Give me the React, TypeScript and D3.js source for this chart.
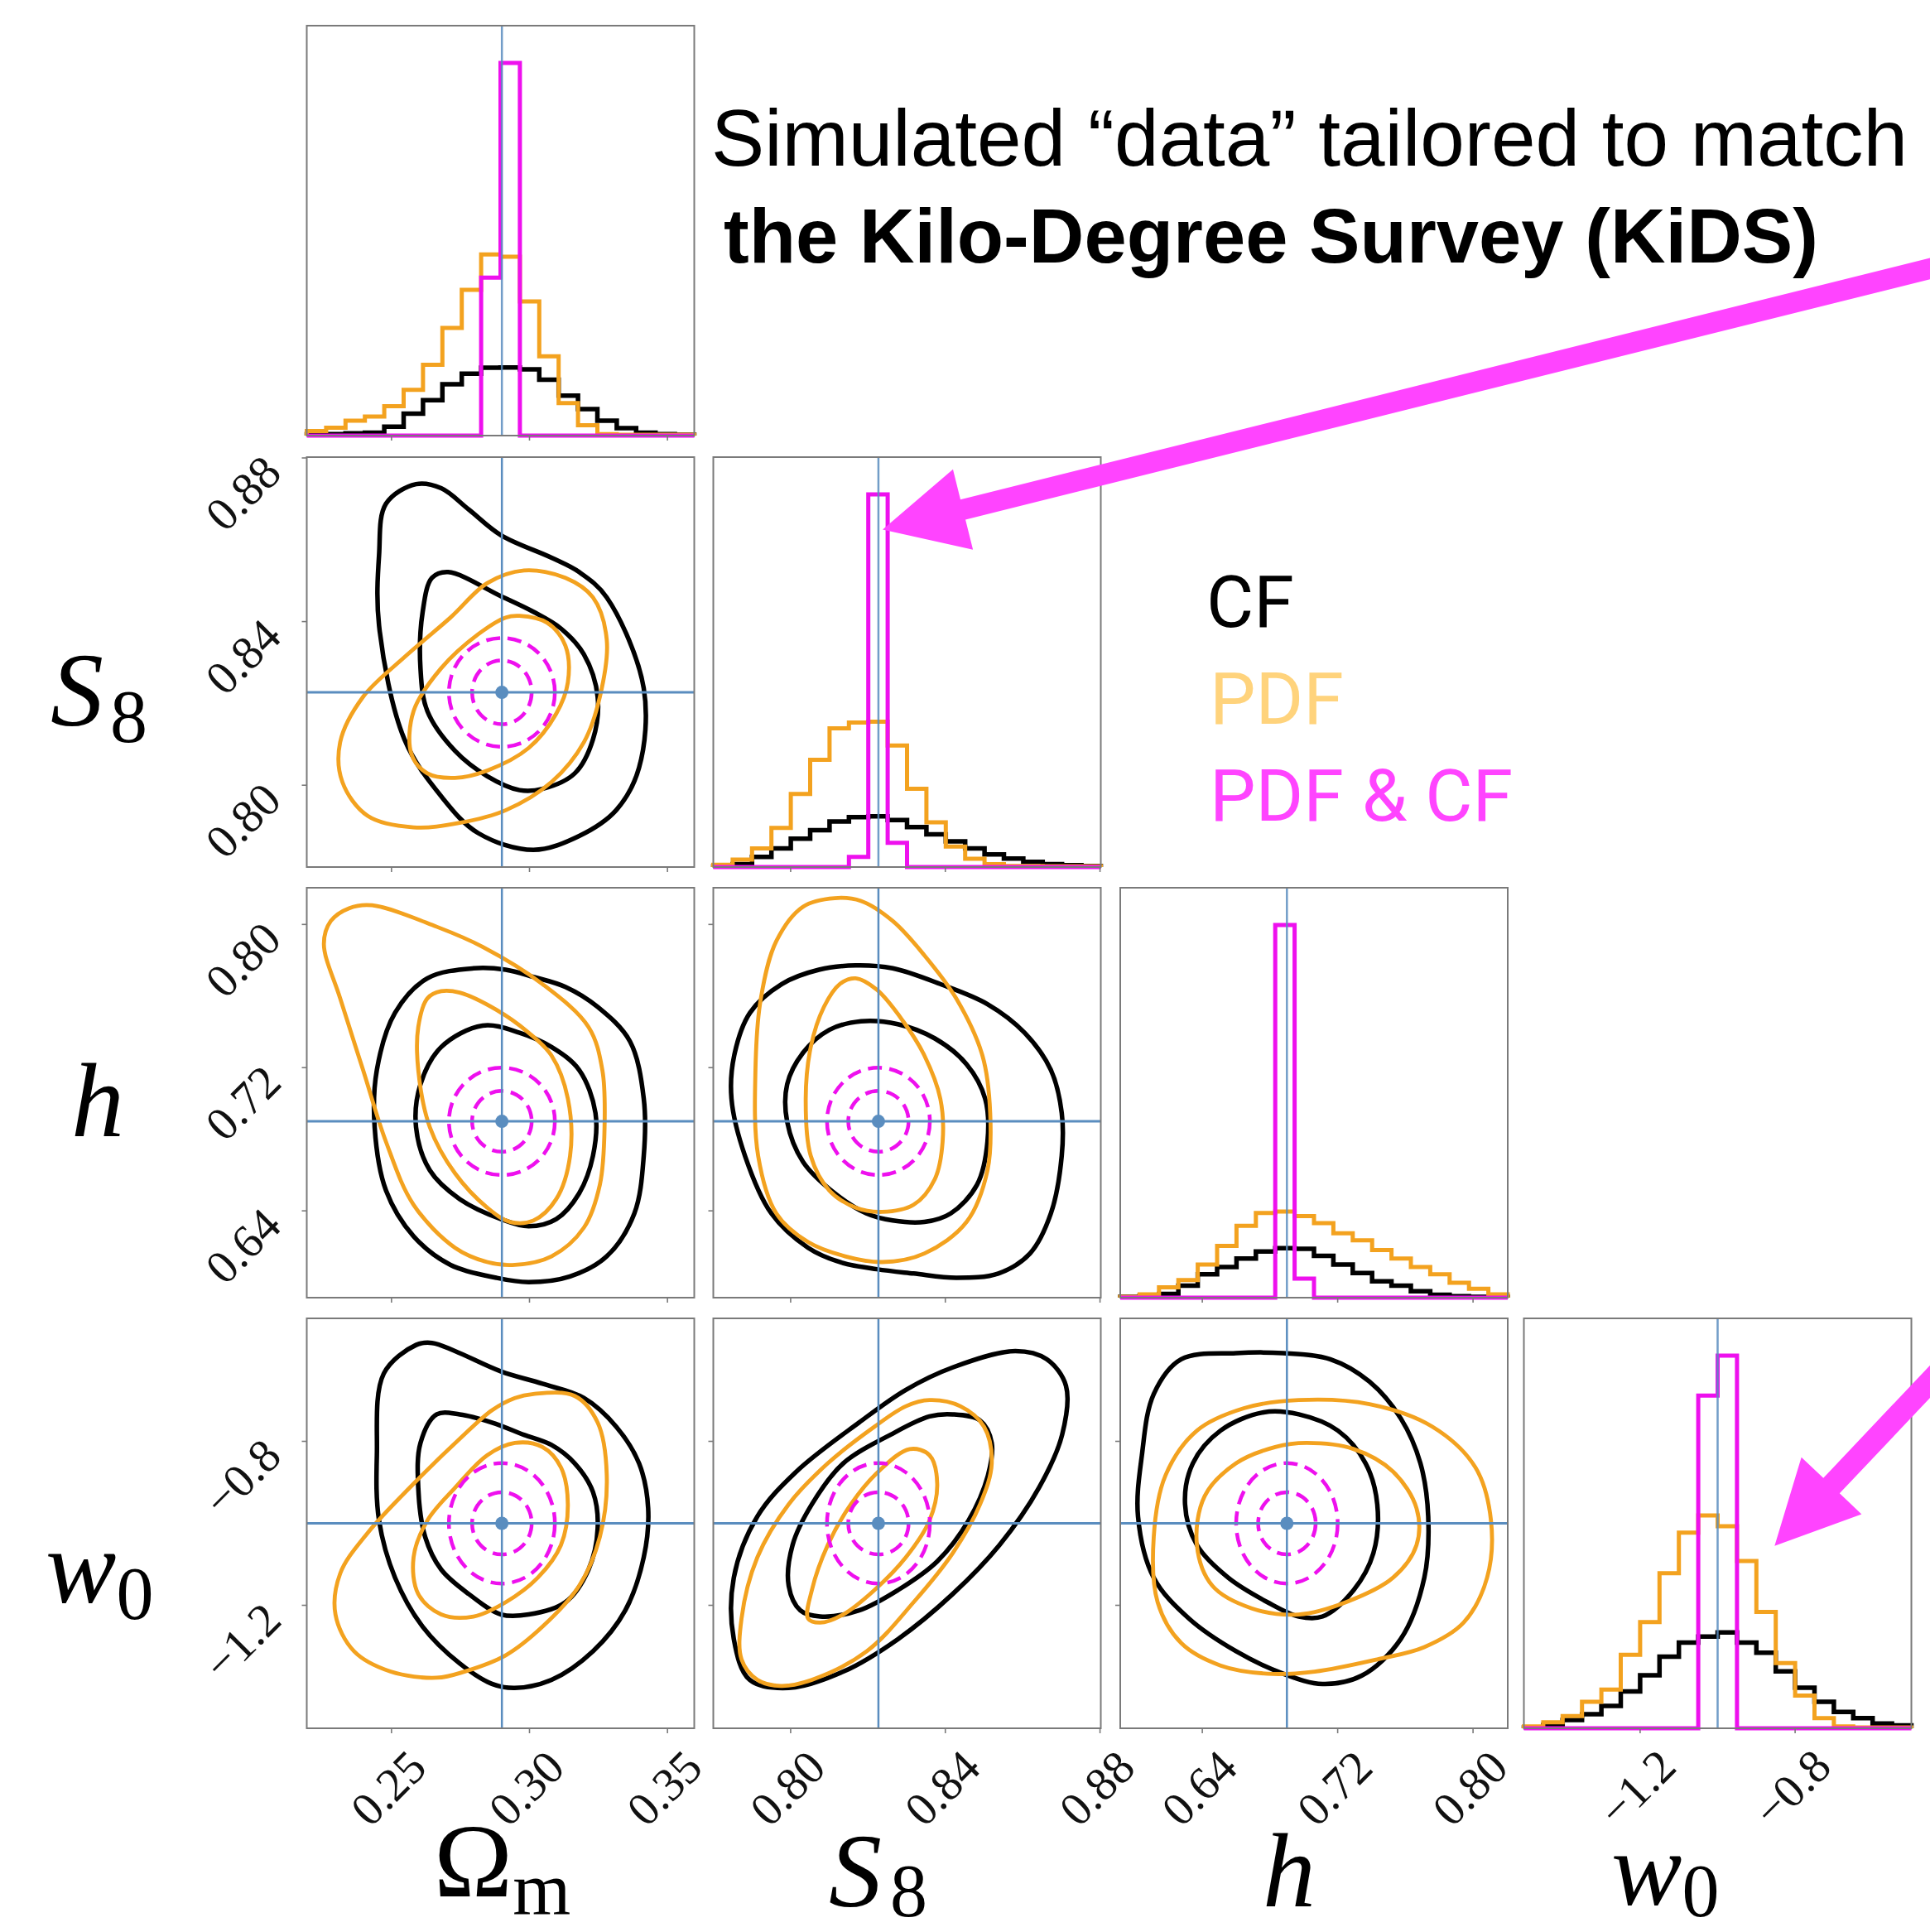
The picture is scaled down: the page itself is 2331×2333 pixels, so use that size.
import React from "react";
import * as d3 from "d3";

// ---------------- DATA ----------------
const PARAMS = ["Omega_m", "S_8", "h", "w_0"];
const RANGE_OM: [number, number] = [0.2193, 0.3597];
const RANGE_S8: [number, number] = [0.78, 0.8802];
const RANGE_H: [number, number] = [0.5915, 0.8205];
const RANGE_W0: [number, number] = [-1.5, -0.5];
const RANGES = [RANGE_OM, RANGE_S8, RANGE_H, RANGE_W0];
const TRUTHS = [0.29, 0.8227, 0.69, -1.0];

const TICKS_OM = [0.25, 0.3, 0.35];
const TICKS_S8 = [0.8, 0.84, 0.88];
const TICKS_H = [0.64, 0.72, 0.8];
const TICKS_W0 = [-1.2, -0.8];
const TICKS = [TICKS_OM, TICKS_S8, TICKS_H, TICKS_W0];
const TICK_LABELS_OM = ["0.25", "0.30", "0.35"];
const TICK_LABELS_S8 = ["0.80", "0.84", "0.88"];
const TICK_LABELS_H = ["0.64", "0.72", "0.80"];
const TICK_LABELS_W0 = ["\u22121.2", "\u22120.8"];
const TICK_LABELS = [TICK_LABELS_OM, TICK_LABELS_S8, TICK_LABELS_H, TICK_LABELS_W0];

// 1D marginals, 20 bins across each axis range (normalised so PDF&CF peak = 1)
const OM_HIST_CF = [0.004, 0.004, 0.006, 0.008, 0.024, 0.059, 0.095, 0.138, 0.166, 0.182, 0.183, 0.178, 0.15, 0.107, 0.071, 0.04, 0.02, 0.008, 0.004, 0.002];
const OM_HIST_PDF = [0.012, 0.021, 0.04, 0.051, 0.079, 0.123, 0.19, 0.289, 0.391, 0.486, 0.48, 0.36, 0.213, 0.087, 0.028, 0.004, 0.002, 0.002, 0.002, 0.002];
const OM_HIST_BOTH = [0, 0, 0, 0, 0, 0, 0, 0, 0, 0.424, 1.0, 0, 0, 0, 0, 0, 0, 0, 0, 0];

const S8_HIST_CF = [0.002, 0.008, 0.027, 0.05, 0.076, 0.099, 0.122, 0.134, 0.136, 0.126, 0.107, 0.088, 0.069, 0.05, 0.034, 0.023, 0.014, 0.008, 0.005, 0.003];
const S8_HIST_PDF = [0.006, 0.02, 0.05, 0.105, 0.196, 0.288, 0.372, 0.388, 0.39, 0.326, 0.21, 0.12, 0.055, 0.022, 0.008, 0.003, 0.003, 0.002, 0.002, 0.002];
const S8_HIST_BOTH = [0, 0, 0, 0, 0, 0, 0, 0.027, 1.0, 0.065, 0, 0, 0, 0, 0, 0, 0, 0, 0, 0];

const H_HIST_CF = [0.002, 0.005, 0.01, 0.032, 0.063, 0.082, 0.105, 0.124, 0.133, 0.131, 0.112, 0.089, 0.066, 0.044, 0.032, 0.017, 0.008, 0.004, 0.002, 0.002];
const H_HIST_PDF = [0.002, 0.009, 0.028, 0.047, 0.089, 0.139, 0.193, 0.227, 0.231, 0.219, 0.2, 0.173, 0.154, 0.128, 0.105, 0.082, 0.063, 0.04, 0.024, 0.009];
const H_HIST_BOTH = [0, 0, 0, 0, 0, 0, 0, 0, 1.0, 0.051, 0, 0, 0, 0, 0, 0, 0, 0, 0, 0];

const W0_HIST_CF = [0.002, 0.009, 0.022, 0.038, 0.06, 0.099, 0.142, 0.192, 0.23, 0.246, 0.257, 0.23, 0.203, 0.153, 0.109, 0.071, 0.044, 0.027, 0.013, 0.008];
const W0_HIST_PDF = [0.005, 0.016, 0.033, 0.071, 0.104, 0.197, 0.285, 0.416, 0.525, 0.571, 0.542, 0.449, 0.312, 0.175, 0.088, 0.027, 0.005, 0.002, 0.002, 0.002];
const W0_HIST_BOTH = [0, 0, 0, 0, 0, 0, 0, 0, 0, 0.893, 1.0, 0, 0, 0, 0, 0, 0, 0, 0, 0];

const HISTS = [
  [OM_HIST_CF, OM_HIST_PDF, OM_HIST_BOTH],
  [S8_HIST_CF, S8_HIST_PDF, S8_HIST_BOTH],
  [H_HIST_CF, H_HIST_PDF, H_HIST_BOTH],
  [W0_HIST_CF, W0_HIST_PDF, W0_HIST_BOTH],
];

// 2D credible contours (data units), [x, y]
const S8_OM_CF_OUTER = [[0.2589, 0.8736], [0.268, 0.8726], [0.278, 0.8674], [0.2897, 0.8611], [0.308, 0.8556], [0.318, 0.8521], [0.328, 0.8459], [0.3414, 0.8237], [0.3397, 0.8043], [0.3314, 0.7939], [0.318, 0.7876], [0.3014, 0.7842], [0.2814, 0.7883], [0.268, 0.7973], [0.2547, 0.8112], [0.2455, 0.839], [0.2455, 0.8563], [0.248, 0.8688]];
const S8_OM_CF_INNER = [[0.2705, 0.8521], [0.2897, 0.8462], [0.3014, 0.8424], [0.3114, 0.8383], [0.3197, 0.832], [0.3247, 0.8216], [0.323, 0.8112], [0.3164, 0.8029], [0.3047, 0.7991], [0.2964, 0.7988], [0.2847, 0.8022], [0.273, 0.8084], [0.263, 0.8181], [0.2605, 0.8286], [0.2613, 0.8424], [0.2647, 0.8507]];
const S8_OM_PDF_OUTER = [[0.298, 0.8525], [0.313, 0.8507], [0.323, 0.8459], [0.328, 0.8355], [0.3255, 0.8216], [0.3197, 0.8105], [0.308, 0.8008], [0.2914, 0.7939], [0.2747, 0.7908], [0.258, 0.7897], [0.2414, 0.7925], [0.2322, 0.8008], [0.2314, 0.8105], [0.2397, 0.8216], [0.2547, 0.8313], [0.2714, 0.841], [0.2847, 0.8494]];
const S8_OM_PDF_INNER = [[0.2964, 0.8414], [0.3064, 0.8397], [0.313, 0.8341], [0.3139, 0.8251], [0.3097, 0.8175], [0.2997, 0.8091], [0.2847, 0.8036], [0.273, 0.8018], [0.263, 0.8029], [0.2572, 0.8077], [0.258, 0.8181], [0.268, 0.8286], [0.2814, 0.8369], [0.2914, 0.841]];

const H_OM_CF_OUTER = [[0.2797, 0.7755], [0.2914, 0.7747], [0.3014, 0.7707], [0.313, 0.7651], [0.3247, 0.7539], [0.3364, 0.7347], [0.3414, 0.7027], [0.3414, 0.6707], [0.338, 0.6386], [0.328, 0.6146], [0.3147, 0.6034], [0.2997, 0.6002], [0.288, 0.6026], [0.2714, 0.6098], [0.258, 0.6258], [0.248, 0.6514], [0.2439, 0.6867], [0.2447, 0.7187], [0.2513, 0.7507], [0.263, 0.7699]];
const H_OM_CF_INNER = [[0.283, 0.7435], [0.2964, 0.7395], [0.308, 0.7315], [0.318, 0.7187], [0.3239, 0.6947], [0.323, 0.6707], [0.318, 0.6498], [0.3097, 0.6354], [0.2997, 0.6314], [0.2897, 0.6354], [0.2747, 0.6466], [0.2639, 0.6626], [0.2589, 0.6867], [0.2605, 0.7107], [0.268, 0.7315]];
const H_OM_PDF_OUTER = [[0.243, 0.8107], [0.2664, 0.7987], [0.283, 0.7875], [0.3047, 0.7667], [0.3214, 0.7427], [0.3264, 0.7187], [0.3272, 0.6867], [0.3255, 0.6546], [0.3197, 0.6306], [0.308, 0.6146], [0.2947, 0.6098], [0.2847, 0.6114], [0.273, 0.6194], [0.258, 0.6434], [0.248, 0.6786], [0.2397, 0.7187], [0.2314, 0.7587], [0.2255, 0.7891], [0.228, 0.8019], [0.2347, 0.8091]];
const H_OM_PDF_INNER = [[0.268, 0.7627], [0.2747, 0.7619], [0.288, 0.7523], [0.2997, 0.7395], [0.308, 0.7267], [0.3139, 0.7027], [0.3147, 0.6707], [0.3097, 0.6466], [0.3014, 0.6346], [0.293, 0.6338], [0.2847, 0.6418], [0.273, 0.661], [0.2639, 0.6867], [0.2597, 0.7187], [0.2597, 0.7427], [0.263, 0.7587]];

const W0_OM_CF_OUTER = [[0.2589, -0.5649], [0.2647, -0.5599], [0.273, -0.5798], [0.2897, -0.6296], [0.3047, -0.6595], [0.3197, -0.6944], [0.3314, -0.7641], [0.3397, -0.8537], [0.343, -0.9633], [0.3414, -1.0829], [0.3347, -1.2123], [0.323, -1.312], [0.308, -1.3817], [0.2947, -1.4016], [0.2864, -1.3917], [0.2747, -1.3418], [0.2613, -1.2522], [0.2513, -1.1327], [0.2455, -0.9932], [0.2447, -0.8338], [0.2472, -0.6346]];
const W0_OM_CF_INNER = [[0.2664, -0.7342], [0.2747, -0.7342], [0.2864, -0.7541], [0.298, -0.784], [0.308, -0.8089], [0.3164, -0.8537], [0.323, -0.9235], [0.3247, -1.0131], [0.3214, -1.1127], [0.313, -1.1924], [0.2997, -1.2223], [0.2897, -1.2223], [0.278, -1.1725], [0.268, -1.1127], [0.2622, -1.033], [0.2597, -0.9135], [0.2605, -0.8039]];
const W0_OM_PDF_OUTER = [[0.3014, -0.6844], [0.3164, -0.6894], [0.3247, -0.7541], [0.328, -0.8836], [0.3255, -1.033], [0.318, -1.1526], [0.3047, -1.2522], [0.2914, -1.3219], [0.2764, -1.3618], [0.2664, -1.3767], [0.2497, -1.3618], [0.2364, -1.312], [0.2297, -1.2223], [0.2314, -1.1227], [0.2414, -1.0231], [0.258, -0.9035], [0.2747, -0.794], [0.2864, -0.7242], [0.2947, -0.6943]];
const W0_OM_PDF_INNER = [[0.2947, -0.8039], [0.3047, -0.8139], [0.3114, -0.8637], [0.3139, -0.9534], [0.3114, -1.053], [0.303, -1.1327], [0.2914, -1.1924], [0.2797, -1.2273], [0.268, -1.2223], [0.2597, -1.1725], [0.258, -1.0829], [0.263, -0.9932], [0.273, -0.9135], [0.2847, -0.8338]];

const H_S8_CF_OUTER = [[0.8168, 0.7771], [0.8264, 0.7755], [0.8387, 0.7667], [0.8509, 0.7555], [0.8605, 0.7395], [0.8673, 0.7187], [0.8701, 0.6947], [0.8701, 0.6707], [0.8673, 0.6386], [0.8619, 0.6162], [0.8537, 0.605], [0.8428, 0.6026], [0.8318, 0.605], [0.8223, 0.6074], [0.8127, 0.6114], [0.8045, 0.6194], [0.795, 0.6386], [0.7882, 0.6707], [0.7847, 0.7027], [0.7854, 0.7267], [0.7895, 0.7507], [0.7977, 0.7667], [0.8073, 0.7747]];
const H_S8_CF_INNER = [[0.8182, 0.7459], [0.8277, 0.7443], [0.8373, 0.7363], [0.8455, 0.7219], [0.8503, 0.7027], [0.8509, 0.6787], [0.8482, 0.6546], [0.8414, 0.6386], [0.8346, 0.6338], [0.8264, 0.6346], [0.8196, 0.6386], [0.8114, 0.6498], [0.8032, 0.6674], [0.7991, 0.6898], [0.7991, 0.7107], [0.8032, 0.7283], [0.81, 0.7411]];
const H_S8_PDF_OUTER = [[0.8114, 0.8147], [0.8182, 0.8131], [0.8264, 0.8019], [0.8346, 0.7827], [0.8428, 0.7587], [0.8496, 0.7267], [0.8516, 0.6947], [0.8509, 0.6626], [0.8455, 0.6338], [0.8346, 0.6162], [0.8237, 0.6114], [0.8141, 0.6146], [0.8045, 0.6226], [0.7963, 0.6386], [0.7916, 0.6707], [0.7909, 0.7187], [0.7923, 0.7587], [0.7963, 0.7907], [0.8032, 0.8099]];
const H_S8_PDF_INNER = [[0.8168, 0.7699], [0.8223, 0.7635], [0.8291, 0.7459], [0.8346, 0.7267], [0.8387, 0.7027], [0.8393, 0.6787], [0.8373, 0.6578], [0.8318, 0.6434], [0.8236, 0.6394], [0.8168, 0.6418], [0.81, 0.6514], [0.8052, 0.6707], [0.8039, 0.7027], [0.8052, 0.7315], [0.8086, 0.7539], [0.8127, 0.7667]];

const W0_S8_CF_OUTER = [[0.8581, -0.5798], [0.8662, -0.5997], [0.8712, -0.6645], [0.8702, -0.784], [0.8642, -0.9135], [0.854, -1.053], [0.8419, -1.1725], [0.8278, -1.2821], [0.8136, -1.3618], [0.7995, -1.4016], [0.7894, -1.3817], [0.7853, -1.2821], [0.7853, -1.1327], [0.7914, -0.9832], [0.8015, -0.8737], [0.8177, -0.7541], [0.8298, -0.6744], [0.8419, -0.6197]];
const W0_S8_CF_INNER = [[0.8419, -0.7342], [0.849, -0.7491], [0.852, -0.8039], [0.851, -0.8836], [0.846, -0.9932], [0.8379, -1.0928], [0.8278, -1.1626], [0.8177, -1.2124], [0.8076, -1.2273], [0.8025, -1.2124], [0.7995, -1.1526], [0.8005, -1.053], [0.8055, -0.9534], [0.8136, -0.8537], [0.8258, -0.784], [0.8359, -0.7392]];
const W0_S8_PDF_OUTER = [[0.8359, -0.6993], [0.8439, -0.7143], [0.85, -0.7641], [0.852, -0.8537], [0.849, -0.9534], [0.8419, -1.0729], [0.8318, -1.1924], [0.8197, -1.312], [0.8055, -1.3817], [0.7975, -1.3966], [0.7914, -1.3817], [0.7873, -1.3319], [0.7873, -1.2323], [0.7914, -1.0829], [0.7995, -0.9534], [0.8096, -0.8537], [0.8217, -0.7641], [0.8298, -0.7143]];
const W0_S8_PDF_INNER = [[0.8308, -0.8189], [0.8359, -0.8338], [0.8379, -0.9035], [0.8359, -0.9932], [0.8298, -1.0829], [0.8217, -1.1626], [0.8136, -1.2223], [0.8076, -1.2423], [0.8045, -1.2323], [0.8055, -1.1626], [0.8096, -1.053], [0.8156, -0.9534], [0.8227, -0.8737]];

const W0_H_CF_OUTER = [[0.6275, -0.5997], [0.6599, -0.5848], [0.6878, -0.5848], [0.7156, -0.5997], [0.7388, -0.6545], [0.7573, -0.7442], [0.7689, -0.8537], [0.7735, -0.9832], [0.7712, -1.1327], [0.7573, -1.2821], [0.7341, -1.3718], [0.711, -1.3917], [0.6878, -1.3668], [0.6599, -1.312], [0.6321, -1.2323], [0.6113, -1.1327], [0.602, -0.9832], [0.6043, -0.8338], [0.6113, -0.6844]];
const W0_H_CF_INNER = [[0.6762, -0.7292], [0.697, -0.7342], [0.7202, -0.774], [0.7365, -0.8537], [0.7434, -0.9534], [0.7411, -1.0729], [0.7295, -1.1626], [0.711, -1.2273], [0.697, -1.2273], [0.6785, -1.1924], [0.6553, -1.1327], [0.6368, -1.053], [0.6298, -0.9534], [0.6344, -0.8537], [0.6507, -0.774]];
const W0_H_PDF_OUTER = [[0.697, -0.6993], [0.7388, -0.7093], [0.7759, -0.7641], [0.8014, -0.8637], [0.8106, -0.9932], [0.8083, -1.1327], [0.7944, -1.2423], [0.7712, -1.302], [0.7434, -1.3319], [0.7063, -1.3618], [0.6785, -1.3668], [0.6507, -1.3468], [0.6275, -1.292], [0.6136, -1.1924], [0.6113, -1.033], [0.6182, -0.8836], [0.6368, -0.774], [0.6646, -0.7193]];
const W0_H_PDF_INNER = [[0.7017, -0.8039], [0.7295, -0.8189], [0.7527, -0.8737], [0.7666, -0.9634], [0.7666, -1.053], [0.7527, -1.1327], [0.7249, -1.1924], [0.697, -1.2223], [0.6692, -1.2074], [0.646, -1.1526], [0.6368, -1.053], [0.6414, -0.9335], [0.6599, -0.8537], [0.6831, -0.8139]];

// PDF & CF dashed contours: half-extent of each level per parameter
const BOTH_OUTER_HALF = [0.0192, 0.0133, 0.03, 0.147];
const BOTH_INNER_HALF = [0.0108, 0.0078, 0.017, 0.076];

const PANELS2D = [
  { row: 1, col: 0, cf: [S8_OM_CF_OUTER, S8_OM_CF_INNER], pdf: [S8_OM_PDF_OUTER, S8_OM_PDF_INNER] },
  { row: 2, col: 0, cf: [H_OM_CF_OUTER, H_OM_CF_INNER], pdf: [H_OM_PDF_OUTER, H_OM_PDF_INNER] },
  { row: 3, col: 0, cf: [W0_OM_CF_OUTER, W0_OM_CF_INNER], pdf: [W0_OM_PDF_OUTER, W0_OM_PDF_INNER] },
  { row: 2, col: 1, cf: [H_S8_CF_OUTER, H_S8_CF_INNER], pdf: [H_S8_PDF_OUTER, H_S8_PDF_INNER] },
  { row: 3, col: 1, cf: [W0_S8_CF_OUTER, W0_S8_CF_INNER], pdf: [W0_S8_PDF_OUTER, W0_S8_PDF_INNER] },
  { row: 3, col: 2, cf: [W0_H_CF_OUTER, W0_H_CF_INNER], pdf: [W0_H_PDF_OUTER, W0_H_PDF_INNER] },
];

const LEGEND_LABELS = ["CF", "PDF", "PDF & CF"];
const TITLE_LINE1 = "Simulated \u201cdata\u201d tailored to match";
const TITLE_LINE2 = "the Kilo-Degree Survey (KiDS)";

// ---------------- LAYOUT / STYLE ----------------
const W = 2331;
const H = 2333;
const COL_X = [370.5, 861.5, 1353, 1840.5];
const ROW_Y = [31, 552, 1072, 1592];
const PW = 468;
const PH = 495;
const NBINS = 20;

const C_CF = "#000000";
const C_PDF = "#f3a21f";
const C_BOTH = "#ee10ee";
const C_TRUTH = "#5a8dbf";
const C_FRAME = "#7a7a7a";
const C_ARROW = "#ff44ff";
const C_LEG_PDF = "#ffd37c";

const SERIF = "'Liberation Serif', 'DejaVu Serif', serif";
const SANS = "'Liberation Sans', Arial, sans-serif";

function arrowPoints(tip: [number, number], tail: [number, number], shaft: number, headLen: number, headHalf: number) {
  const dx = tail[0] - tip[0];
  const dy = tail[1] - tip[1];
  const L = Math.hypot(dx, dy);
  const ux = dx / L, uy = dy / L;
  const nx = -uy, ny = ux;
  const bx = tip[0] + ux * headLen, by = tip[1] + uy * headLen;
  const pts = [
    [tip[0], tip[1]],
    [bx + nx * headHalf, by + ny * headHalf],
    [bx + nx * shaft / 2, by + ny * shaft / 2],
    [tail[0] + nx * shaft / 2, tail[1] + ny * shaft / 2],
    [tail[0] - nx * shaft / 2, tail[1] - ny * shaft / 2],
    [bx - nx * shaft / 2, by - ny * shaft / 2],
    [bx - nx * headHalf, by - ny * headHalf],
  ];
  return pts.map((p) => p.join(",")).join(" ");
}

export default function App() {
  const xs = RANGES.map((r, j) => d3.scaleLinear().domain(r).range([COL_X[j], COL_X[j] + PW]));
  const ys = RANGES.map((r, i) => d3.scaleLinear().domain(r).range([ROW_Y[i] + PH, ROW_Y[i]]));
  const hy = ROW_Y.map((y0) => d3.scaleLinear().domain([0, 1.1]).range([y0 + PH, y0]));

  const contourLine = (j: number, i: number) =>
    d3
      .line<number[]>()
      .x((d) => xs[j](d[0]))
      .y((d) => ys[i](d[1]))
      .curve(d3.curveCatmullRomClosed.alpha(0.5));

  const histPath = (k: number, vals: number[]) => {
    const [lo, hi] = RANGES[k];
    const edges = d3.range(NBINS + 1).map((b) => lo + ((hi - lo) * b) / NBINS);
    const pts: number[][] = [[edges[0], 0]];
    vals.forEach((v, b) => pts.push([edges[b], v]));
    pts.push([edges[NBINS], vals[NBINS - 1]]);
    pts.push([edges[NBINS], 0]);
    return d3
      .line<number[]>()
      .x((d) => xs[k](d[0]))
      .y((d) => hy[k](d[1]))
      .curve(d3.curveStepAfter)(pts) as string;
  };

  const frames: JSX.Element[] = [];
  const xTicks: JSX.Element[] = [];
  const yTicks: JSX.Element[] = [];

  for (let i = 0; i < 4; i++) {
    for (let j = 0; j <= i; j++) {
      const x0 = COL_X[j], y0 = ROW_Y[i];
      frames.push(<rect key={`f${i}${j}`} x={x0} y={y0} width={PW} height={PH} fill="none" stroke={C_FRAME} strokeWidth={2} />);
      TICKS[j].forEach((t, k) => {
        const tx = xs[j](t);
        xTicks.push(<line key={`xt${i}${j}${k}`} x1={tx} x2={tx} y1={y0 + PH} y2={y0 + PH + 6} stroke={C_FRAME} strokeWidth={1.6} />);
        if (i === 3) {
          xTicks.push(
            <text
              key={`xl${j}${k}`}
              transform={`translate(${tx - 4},${y0 + PH + 72}) rotate(-45)`}
              textAnchor="middle"
              dominantBaseline="central"
              fontFamily={SERIF}
              fontSize={57}
              fill="#111"
            >
              {TICK_LABELS[j][k]}
            </text>
          );
        }
      });
      if (j < i) {
        TICKS[i].forEach((t, k) => {
          const ty = ys[i](t);
          yTicks.push(<line key={`yt${i}${j}${k}`} x1={x0 - 6} x2={x0} y1={ty} y2={ty} stroke={C_FRAME} strokeWidth={1.6} />);
          if (j === 0) {
            yTicks.push(
              <text
                key={`yl${i}${k}`}
                transform={`translate(${x0 - 42},${ty + 7}) rotate(-45)`}
                textAnchor="end"
                dominantBaseline="central"
                fontFamily={SERIF}
                fontSize={57}
                fill="#111"
              >
                {TICK_LABELS[i][k]}
              </text>
            );
          }
        });
      }
    }
  }

  const hists = HISTS.map((series, k) => (
    <g key={`h${k}`}>
      <path d={histPath(k, series[0])} fill="none" stroke={C_CF} strokeWidth={5.5} />
      <path d={histPath(k, series[1])} fill="none" stroke={C_PDF} strokeWidth={5} />
      <path d={histPath(k, series[2])} fill="none" stroke={C_BOTH} strokeWidth={5} />
      <line x1={xs[k](TRUTHS[k])} x2={xs[k](TRUTHS[k])} y1={ROW_Y[k]} y2={ROW_Y[k] + PH} stroke={C_TRUTH} strokeWidth={2.5} opacity={0.85} />
    </g>
  ));

  const panels2d = PANELS2D.map((p, n) => {
    const { row: i, col: j } = p;
    const ln = contourLine(j, i);
    const cx = xs[j](TRUTHS[j]);
    const cy = ys[i](TRUTHS[i]);
    const ell = (half: number[]) => (
      <ellipse
        cx={cx}
        cy={cy}
        rx={Math.abs(xs[j](TRUTHS[j] + half[j]) - cx)}
        ry={Math.abs(ys[i](TRUTHS[i] + half[i]) - cy)}
        fill="none"
        stroke={C_BOTH}
        strokeWidth={4.5}
        strokeDasharray="17 9"
      />
    );
    return (
      <g key={`p${n}`}>
        {p.cf.map((c, k) => (
          <path key={`cf${k}`} d={ln(c) as string} fill="none" stroke={C_CF} strokeWidth={5.5} />
        ))}
        {p.pdf.map((c, k) => (
          <path key={`pdf${k}`} d={ln(c) as string} fill="none" stroke={C_PDF} strokeWidth={4.8} />
        ))}
        {ell(BOTH_OUTER_HALF)}
        {ell(BOTH_INNER_HALF)}
        <line x1={cx} x2={cx} y1={ROW_Y[i]} y2={ROW_Y[i] + PH} stroke={C_TRUTH} strokeWidth={2.5} />
        <line x1={COL_X[j]} x2={COL_X[j] + PW} y1={cy} y2={cy} stroke={C_TRUTH} strokeWidth={3} />
        <circle cx={cx} cy={cy} r={8} fill={C_TRUTH} />
      </g>
    );
  });

  const labelSize = 128;
  const subSize = 90;

  return (
    <svg
      width={W}
      height={H}
      viewBox={`0 0 ${W} ${H}`}
      style={{ position: "absolute", left: 0, top: 0, background: "#fff" }}
    >
      <rect x={0} y={0} width={W} height={H} fill="#fff" />
      {hists}
      {panels2d}
      {frames}
      {xTicks}
      {yTicks}

      {/* row labels */}
      <text x={61} y={876} fontFamily={SERIF} fontStyle="italic" fontSize={labelSize} fill="#000">
        S<tspan fontStyle="normal" fontSize={subSize} dx={8} dy={20}>8</tspan>
      </text>
      <text x={86} y={1372} fontFamily={SERIF} fontStyle="italic" fontSize={labelSize} fill="#000">h</text>
      <text x={55} y={1935} fontFamily={SERIF} fontStyle="italic" fontSize={labelSize} fill="#000">
        w<tspan fontStyle="normal" fontSize={subSize} dy={20}>0</tspan>
      </text>

      {/* column labels */}
      <text x={524} y={2290} fontFamily={SERIF} fontSize={labelSize} fill="#000">
        Ω<tspan fontSize={subSize} dy={22}>m</tspan>
      </text>
      <text x={1001} y={2302} fontFamily={SERIF} fontStyle="italic" fontSize={labelSize} fill="#000">
        S<tspan fontStyle="normal" fontSize={subSize} dx={10} dy={12}>8</tspan>
      </text>
      <text x={1525} y={2302} fontFamily={SERIF} fontStyle="italic" fontSize={labelSize} fill="#000">h</text>
      <text x={1946} y={2300} fontFamily={SERIF} fontStyle="italic" fontSize={labelSize} fill="#000">
        w<tspan fontStyle="normal" fontSize={subSize} dy={14}>0</tspan>
      </text>

      {/* title */}
      <text x={859} y={200} fontFamily={SANS} fontSize={96} fill="#000" textLength={1445} lengthAdjust="spacingAndGlyphs">
        {TITLE_LINE1}
      </text>
      <text x={874} y={317} fontFamily={SANS} fontWeight={900} fontSize={92} fill="#000" textLength={1322} lengthAdjust="spacingAndGlyphs">
        {TITLE_LINE2}
      </text>

      {/* legend */}
      <text x={1457} y={757} fontFamily="Roboto, 'Liberation Sans', sans-serif" fontSize={88} fill="#000">{LEGEND_LABELS[0]}</text>
      <text x={1461} y={874} fontFamily="Roboto, 'Liberation Sans', sans-serif" fontSize={88} fill={C_LEG_PDF}>{LEGEND_LABELS[1]}</text>
      <text x={1461} y={991} fontFamily="Roboto, 'Liberation Sans', sans-serif" fontSize={88} fill={C_ARROW}>{LEGEND_LABELS[2]}</text>

      {/* annotation arrows */}
      <polygon points={arrowPoints([1066, 639.5], [2345, 321], 25, 100, 50)} fill={C_ARROW} />
      <polygon points={arrowPoints([2143.3, 1866.7], [2345, 1653.5], 27, 100, 50)} fill={C_ARROW} />
    </svg>
  );
}
